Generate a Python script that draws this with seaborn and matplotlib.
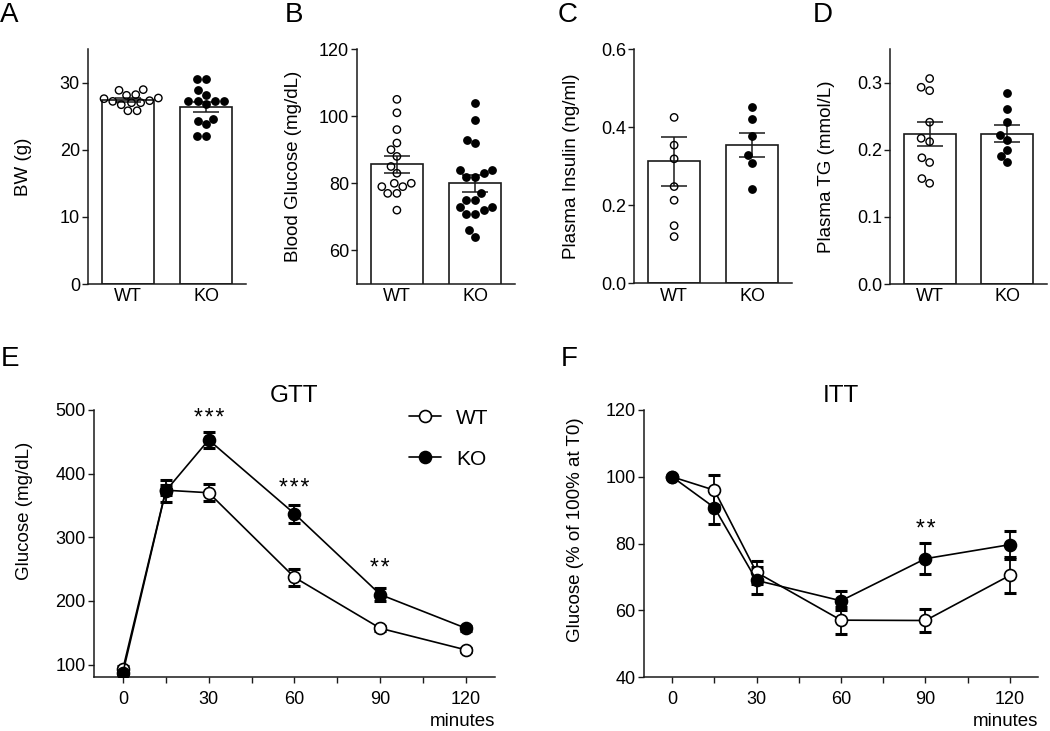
import numpy as np
import pandas as pd
import matplotlib
matplotlib.use("Agg")
import matplotlib.pyplot as plt
from matplotlib.ticker import MultipleLocator, FormatStrFormatter
import seaborn as sns

# ---------------- data ----------------
groups = ["WT", "KO"]

# A: body weight (g)
bw_wt = [28.95, 28.85, 28.2, 28.1, 27.7, 27.6, 27.3, 27.2, 27.0, 27.0, 26.7, 25.8, 25.8]
bw_ko = [30.6, 30.6, 28.85, 28.2, 27.3, 27.3, 27.3, 27.3, 26.8, 24.6, 24.3, 23.8, 22.0, 22.0]
bw_mean = [27.4, 26.4]
bw_sem = [0.3, 0.75]

# B: blood glucose (mg/dL)
bg_wt = [105, 101, 96, 92, 90, 88, 85, 83, 80, 80, 79, 79, 77, 77, 72]
bg_ko = [104, 99, 93, 92, 84, 84, 83, 82, 82, 77, 75, 75, 73, 73, 72, 71, 71, 66, 64]
bg_mean = [85.6, 80.0]
bg_sem = [2.5, 2.45]

# C: plasma insulin (ng/ml)
ins_wt = [0.425, 0.354, 0.319, 0.248, 0.213, 0.148, 0.12]
ins_ko = [0.452, 0.422, 0.377, 0.329, 0.309, 0.242]
ins_mean = [0.313, 0.355]
ins_sem = [0.063, 0.031]

# D: plasma TG (mmol/L)
tg_wt = [0.306, 0.293, 0.288, 0.241, 0.217, 0.212, 0.188, 0.181, 0.157, 0.150]
tg_ko = [0.284, 0.260, 0.241, 0.222, 0.215, 0.199, 0.190, 0.181]
tg_mean = [0.223, 0.224]
tg_sem = [0.018, 0.0125]

# E: GTT
minutes = [0, 15, 30, 60, 90, 120]
gtt_wt = [93, 374, 370, 237, 157, 123]
gtt_wt_sem = [4, 8, 13, 13, 4, 3]
gtt_ko = [87, 373, 453, 337, 210, 157]
gtt_ko_sem = [4, 17, 13, 14, 10, 4]
gtt_stars = ["***", "***", "**"]
gtt_star_t = [30, 60, 90]

# F: ITT
itt_wt = [100, 96, 71.4, 57.1, 57.0, 70.5]
itt_wt_sem = [0, 4.5, 3.4, 4.0, 3.5, 5.4]
itt_ko = [100, 90.8, 69.0, 62.9, 75.5, 79.7]
itt_ko_sem = [0, 5.0, 4.0, 2.9, 4.6, 4.2]
itt_stars = ["**"]
itt_star_t = [90]

# ---------------- style ----------------
sns.set_theme(style="ticks")
plt.rcParams["font.family"] = ["Liberation Sans", "DejaVu Sans"]
plt.rcParams.update({
    "axes.linewidth": 1.1,
    "axes.edgecolor": "#1a1a1a",
    "xtick.color": "#1a1a1a",
    "ytick.color": "#1a1a1a",
    "xtick.labelcolor": "black",
    "ytick.labelcolor": "black",
    "axes.labelcolor": "black",
    "text.color": "black",
})

W, H = 1050, 731
fig = plt.figure(figsize=(W / 100, H / 100), dpi=100)


def px_axes(left, top, right, bottom):
    return fig.add_axes([left / W, 1 - bottom / H, (right - left) / W, (bottom - top) / H])


TICK_FS = 13
LABEL_FS = 13.5
INK = "#1a1a1a"
HAIR = "\u200a"


def bar_panel(ax, wt, ko, means, sems, ylim, ytick_step, ylabel, fmt, label_x):
    df_bar = pd.DataFrame({"group": groups, "value": means})
    df_pts = pd.DataFrame({"group": ["WT"] * len(wt) + ["KO"] * len(ko),
                           "value": list(wt) + list(ko)})
    sns.barplot(data=df_bar, x="group", y="value", order=groups, errorbar=None,
                color="white", saturation=1, edgecolor=INK, linewidth=1.2,
                width=0.67, ax=ax, zorder=1)
    ax.errorbar(np.arange(len(groups)), means, yerr=sems, fmt="none", ecolor=INK,
                elinewidth=1.1, capsize=9.5, capthick=1.1, zorder=2)
    n0 = len(ax.collections)
    sns.swarmplot(data=df_pts, x="group", y="value", order=groups, color="black",
                  size=5.3, linewidth=1.0, edgecolor="black", ax=ax, zorder=3)
    for coll in ax.collections[n0:]:
        offs = coll.get_offsets()
        if len(offs) and np.mean(offs[:, 0]) < 0.5:
            coll.set_facecolor("none")
            coll.set_edgecolor("black")
    ax.set_xlim(-0.51, 1.51)
    ax.set_ylim(*ylim)
    ax.yaxis.set_major_locator(MultipleLocator(ytick_step))
    if fmt:
        ax.yaxis.set_major_formatter(FormatStrFormatter(fmt))
    ax.set_xlabel("")
    ax.set_ylabel(ylabel, fontsize=LABEL_FS)
    ax.yaxis.set_label_coords(label_x, 0.5)
    ax.tick_params(axis="y", direction="out", length=4.3, width=1.0, pad=1.5,
                   labelsize=TICK_FS)
    ax.tick_params(axis="x", length=0, pad=3, labelsize=TICK_FS)
    sns.despine(ax=ax)


axA = px_axes(88, 49, 246, 284)
bar_panel(axA, bw_wt, bw_ko, bw_mean, bw_sem, (0, 35), 10, "BW (g)", None, -0.354)
axB = px_axes(357, 49, 515, 284)
bar_panel(axB, bg_wt, bg_ko, bg_mean, bg_sem, (50, 120), 20, "Blood Glucose (mg/dL)", None, -0.35)
axB.set_yticks([60, 80, 100, 120])
axC = px_axes(634.3, 49, 792, 283.5)
bar_panel(axC, ins_wt, ins_ko, ins_mean, ins_sem, (0, 0.6), 0.2, "Plasma Insulin (ng/ml)", "%.1f", -0.344)
axD = px_axes(890, 49, 1047, 284)
bar_panel(axD, tg_wt, tg_ko, tg_mean, tg_sem, (0, 0.35), 0.1, "Plasma TG (mmol/L)", "%.1f", -0.35)


def line_panel(ax, wt, wt_s, ko, ko_s, ylim, ytick_step, ylabel, title, label_y,
               stars, star_t, star_y, show_legend):
    ax.errorbar(minutes, wt, yerr=wt_s, fmt="none", ecolor="black", elinewidth=1.3,
                capsize=4.6, capthick=2.2, zorder=2)
    ax.errorbar(minutes, ko, yerr=ko_s, fmt="none", ecolor="black", elinewidth=1.3,
                capsize=4.6, capthick=2.2, zorder=2)
    sns.lineplot(x=minutes, y=wt, ax=ax, color="black", marker="o", markersize=8.6,
                 markerfacecolor="white", markeredgecolor="black", markeredgewidth=1.2,
                 linewidth=1.2, label="WT", errorbar=None, zorder=3)
    sns.lineplot(x=minutes, y=ko, ax=ax, color="black", marker="o", markersize=8.6,
                 markerfacecolor="black", markeredgecolor="black", markeredgewidth=1.2,
                 linewidth=1.2, label="KO", errorbar=None, zorder=4)
    for s, t, y in zip(stars, star_t, star_y):
        ax.text(t, y, HAIR.join(s), ha="center", va="baseline", fontsize=16.5)
    ax.set_xlim(-10, 130)
    ax.set_ylim(*ylim)
    ax.xaxis.set_major_locator(MultipleLocator(30))
    ax.xaxis.set_minor_locator(MultipleLocator(15))
    ax.yaxis.set_major_locator(MultipleLocator(ytick_step))
    ax.tick_params(axis="y", direction="out", length=4.3, width=1.0, pad=1.8,
                   labelsize=TICK_FS)
    ax.tick_params(axis="x", which="both", direction="out", length=4.0, width=1.0,
                   pad=6, labelsize=TICK_FS)
    ax.set_ylabel(ylabel, fontsize=LABEL_FS)
    ax.yaxis.set_label_coords(-0.152, label_y)
    ax.set_xlabel("minutes", fontsize=LABEL_FS, loc="right", labelpad=3.5)
    ax.set_title(title, fontsize=17.5, pad=5.5)
    leg = ax.get_legend()
    if leg is not None:
        leg.remove()
    if show_legend:
        ax.legend(loc="upper left", bbox_to_anchor=(0.787, 1.005), frameon=False,
                  fontsize=15, handlelength=1.5, handletextpad=0.75,
                  labelspacing=1.05, borderaxespad=0, borderpad=0)
    sns.despine(ax=ax)


axE = px_axes(94.3, 410, 494.7, 677.3)
line_panel(axE, gtt_wt, gtt_wt_sem, gtt_ko, gtt_ko_sem, (80, 500), 100,
           "Glucose (mg/dL)", "GTT", 0.623, gtt_stars, gtt_star_t,
           [476, 366, 241], True)
axE.set_yticks([100, 200, 300, 400, 500])

axF = px_axes(644, 410, 1038, 677.3)
line_panel(axF, itt_wt, itt_wt_sem, itt_ko, itt_ko_sem, (40, 120), 20,
           "Glucose (% of 100% at T0)", "ITT", 0.551, itt_stars, itt_star_t,
           [82.2], False)

# panel letters
for letter, x, yb in [("A", 0, 21.7), ("B", 285, 21.7), ("C", 558, 21.7), ("D", 813, 21.7),
                      ("E", 1, 366), ("F", 561, 366)]:
    fig.text(x / W, 1 - yb / H, letter, fontsize=20, ha="left", va="baseline")

fig.savefig("out.png", dpi=100)
